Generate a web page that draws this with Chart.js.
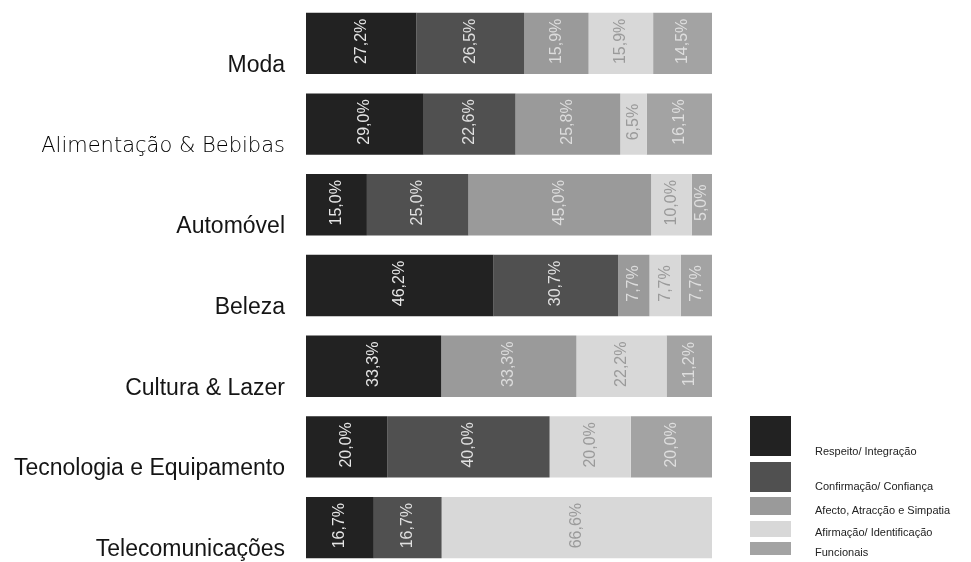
<!DOCTYPE html>
<html>
<head>
<meta charset="utf-8">
<script src="https://cdn.jsdelivr.net/npm/chart.js@4"></script>
<style>
    body { margin: 0; background: #fff; overflow: hidden; }
    #wrap { position: relative; width: 971px; height: 568px; }
    .lg-box { position: absolute; left: 750px; width: 41px; }
    .lg-text { position: absolute; left: 815px; font: 11px 'Liberation Sans', Arial, sans-serif; color: #222; white-space: nowrap; transform: translateY(-50%); }
</style>
</head>
<body>
<div id="wrap">
    <canvas id="chart" width="971" height="568"></canvas>
</div>
<script>
// Categorias (sectores)
const categories = ["Moda", "Alimentação & Bebibas", "Automóvel", "Beleza", "Cultura & Lazer", "Tecnologia e Equipamento", "Telecomunicações"];

// Séries (%)
const respeito     = [27.2, 29.0, 15.0, 46.2, 33.3, 20.0, 16.7];
const confirmacao  = [26.5, 22.6, 25.0, 30.7, 0, 40.0, 16.7];
const afecto       = [15.9, 25.8, 45.0, 7.7, 33.3, 0, 0];
const afirmacao    = [15.9, 6.5, 10.0, 7.7, 22.2, 20.0, 66.6];
const funcionais   = [14.5, 16.1, 5.0, 7.7, 11.2, 20.0, 0];

const seriesNames = ["Respeito/ Integração", "Confirmação/ Confiança", "Afecto, Atracção e Simpatia", "Afirmação/ Identificação", "Funcionais"];

// cores (tons de cinzento)
const fills = ['#222222', '#505050', '#9a9a9a', '#d8d8d8', '#a3a3a3'];
const textColors = ['#e6e6e6', '#e0e0e0', '#dcdcdc', '#9a9a9a', '#dedede'];

// Legenda em HTML (caixas com tamanhos diferentes como no original)
const legendBoxes = [[416, 40], [462, 30], [497, 18], [521, 16], [542, 13]];
const legendTextY = [451, 486, 510, 532, 552];
const wrap = document.getElementById('wrap');
seriesNames.forEach((name, i) => {
    const box = document.createElement('div');
    box.className = 'lg-box';
    box.style.top = legendBoxes[i][0] + 'px';
    box.style.height = legendBoxes[i][1] + 'px';
    box.style.background = fills[i];
    wrap.appendChild(box);
    const t = document.createElement('div');
    t.className = 'lg-text';
    t.style.top = legendTextY[i] + 'px';
    t.textContent = name;
    wrap.appendChild(t);
});

// Nomes das categorias, um pouco abaixo do centro da barra
const categoryLabels = {
    id: 'categoryLabels',
    afterDraw(chart) {
        const ctx = chart.ctx;
        const yScale = chart.scales.y;
        ctx.save();
        ctx.textAlign = 'right';
        ctx.textBaseline = 'middle';
        categories.forEach((c, i) => {
            const y = yScale.getPixelForValue(i) + 22;
            if (i === 1) {
                ctx.font = "200 21px 'DejaVu Sans', sans-serif";
                ctx.fillStyle = '#000';
            } else {
                ctx.font = "23px 'Liberation Sans', Arial, sans-serif";
                ctx.fillStyle = '#151515';
            }
            ctx.fillText(c, chart.chartArea.left - 21, y);
        });
        ctx.restore();
    }
};

// Etiquetas de valor rodadas dentro das barras
const valueLabels = {
    id: 'valueLabels',
    afterDatasetsDraw(chart) {
        const ctx = chart.ctx;
        ctx.save();
        ctx.font = "16px 'Liberation Sans', Arial, sans-serif";
        ctx.textAlign = 'center';
        ctx.textBaseline = 'middle';
        chart.data.datasets.forEach((ds, di) => {
            chart.getDatasetMeta(di).data.forEach((bar, i) => {
                const v = ds.data[i];
                if (!v) return;
                const cx = (bar.x + bar.base) / 2;
                ctx.save();
                ctx.translate(cx, bar.y - 2);
                ctx.rotate(-Math.PI / 2);
                ctx.fillStyle = textColors[di];
                ctx.fillText(v.toFixed(1).replace('.', ',') + '%', 0, 0);
                ctx.restore();
            });
        });
        ctx.restore();
    }
};

const seriesData = [respeito, confirmacao, afecto, afirmacao, funcionais];

new Chart(document.getElementById('chart'), {
    type: 'bar',
    data: {
        labels: categories,
        datasets: seriesData.map((d, i) => ({
            label: seriesNames[i],
            data: d,
            backgroundColor: fills[i],
            borderWidth: 0,
            categoryPercentage: 1,
            barPercentage: 0.76
        }))
    },
    options: {
        indexAxis: 'y',
        responsive: false,
        animation: false,
        layout: { padding: { top: 3, right: 259, bottom: 0, left: 0 } },
        plugins: {
            legend: { display: false },
            tooltip: { enabled: false }
        },
        scales: {
            x: {
                stacked: true,
                min: 0,
                max: 100,
                display: false
            },
            y: {
                stacked: true,
                grid: { display: false, drawTicks: false },
                border: { display: false },
                ticks: { display: false },
                afterFit: (scale) => { scale.width = 306; }
            }
        }
    },
    plugins: [valueLabels, categoryLabels]
});
</script>
</body>
</html>
